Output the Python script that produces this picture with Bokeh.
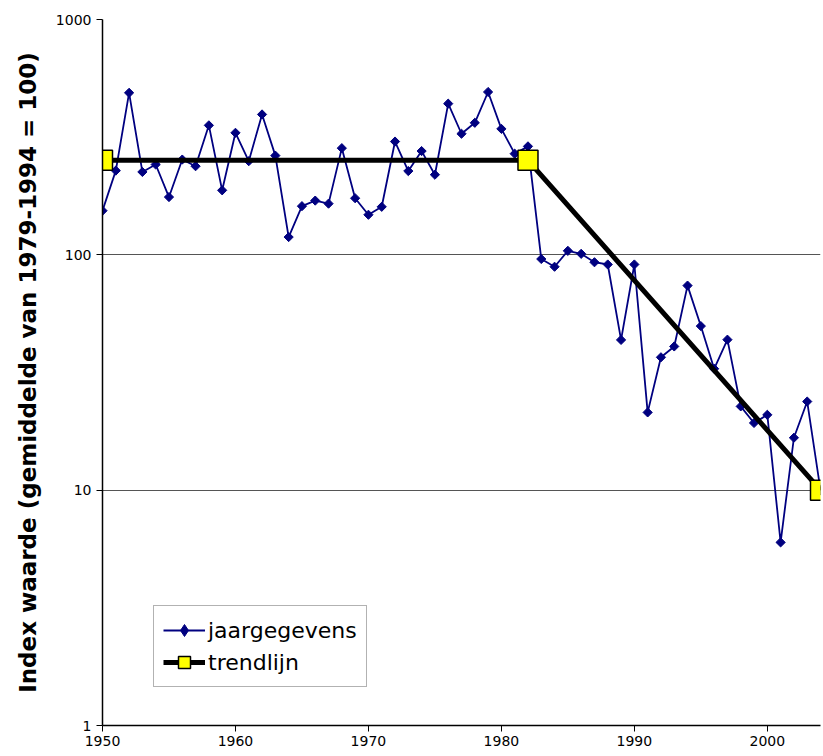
import math
from bokeh.plotting import figure
from bokeh.models import (ColumnDataSource, FixedTicker, PrintfTickFormatter,
                          Legend, LegendItem, Range1d)
from bokeh.embed import file_html
from bokeh.resources import INLINE

# --- data ---
years = list(range(1950, 2005))
index_values = [
    154, 228, 488, 225, 242, 176, 254, 238, 355, 188,
    330, 250, 395, 264, 119, 161, 170, 165, 284, 174,
    148, 160, 303, 227, 276, 219, 439, 327, 364, 492,
    343, 269, 289, 96, 89, 104, 101, 93, 91, 43.5,
    91, 21.4, 36.7, 40.8, 74, 49.8, 32.8, 43.6, 22.7, 19.3,
    20.9, 6.0, 16.7, 23.8, 10,
]
trend_years = [1950, 1982, 2004]
trend_values = [252, 252, 10]

y_ticks = [1, 10, 100, 1000]
x_ticks = [1950, 1960, 1970, 1980, 1990, 2000]
grid_lines = [10, 100]

FONT = "DejaVu Sans"

p = figure(width=823, height=756, y_axis_type="log",
           x_range=Range1d(1950, 2004), y_range=Range1d(1, 1000),
           output_backend="svg", toolbar_location=None,
           min_border_left=102, min_border_right=3,
           min_border_top=19, min_border_bottom=31)
p.outline_line_color = None
p.background_fill_color = "white"

data_src = ColumnDataSource(dict(x=years, y=index_values))
trend_src = ColumnDataSource(dict(x=trend_years, y=trend_values))
# a single off-frame point: only used to draw the legend's diamond symbol
legend_src = ColumnDataSource(dict(x=[1900], y=[1]))

r_line = p.line("x", "y", source=data_src, line_color="#000080", line_width=1.8)
r_pts = p.scatter("x", "y", source=data_src, marker="square", angle=math.pi / 4,
                  size=6.5, fill_color="#000080", line_color="#000080")
r_trend = p.line("x", "y", source=trend_src, line_color="black", line_width=5)
r_sq = p.scatter("x", "y", source=trend_src, marker="square", size=20,
                 fill_color="#FFFF00", line_color="black", line_width=1.5)
r_leg_diam = p.scatter("x", "y", source=legend_src, marker="diamond", size=12,
                       fill_color="#000080", line_color="#000080")

# axes
p.yaxis.ticker = FixedTicker(ticks=y_ticks)
p.yaxis.formatter = PrintfTickFormatter(format="%d")
p.xaxis.ticker = FixedTicker(ticks=x_ticks)
for ax in (p.xaxis[0], p.yaxis[0]):
    ax.axis_line_color = "black"
    ax.axis_line_width = 1.5
    ax.major_tick_line_color = "black"
    ax.major_tick_out = 6
    ax.major_tick_in = 0
    ax.minor_tick_line_color = None
    ax.major_label_text_font = FONT
    ax.major_label_text_font_size = "14px"
    ax.major_label_text_color = "black"
p.xaxis.major_label_standoff = 4
p.yaxis.major_label_standoff = 5
p.yaxis.axis_label = "Index waarde (gemiddelde van 1979-1994 = 100)"
p.yaxis.axis_label_text_font = FONT
p.yaxis.axis_label_text_font_style = "bold"
p.yaxis.axis_label_text_font_size = "23px"
p.yaxis.axis_label_text_color = "black"
p.yaxis.axis_label_standoff = 12

# grid
p.xgrid.grid_line_color = None
p.ygrid.ticker = FixedTicker(ticks=grid_lines)
p.ygrid.grid_line_color = "#555555"
p.ygrid.grid_line_width = 1

legend = Legend(items=[
    LegendItem(label="jaargegevens", renderers=[r_line, r_leg_diam]),
    LegendItem(label="trendlijn", renderers=[r_trend, r_sq]),
], location=(51, 38))
legend.label_text_font = FONT
legend.label_text_font_size = "22px"
legend.label_text_color = "black"
legend.border_line_color = "#666666"
legend.border_line_width = 1
legend.background_fill_alpha = 1
legend.glyph_width = 42
legend.glyph_height = 30
legend.label_standoff = 3
legend.spacing = 2
legend.padding = 9
legend.margin = 0
p.add_layout(legend, "center")

open("out.html", "w").write(file_html(p, INLINE))
